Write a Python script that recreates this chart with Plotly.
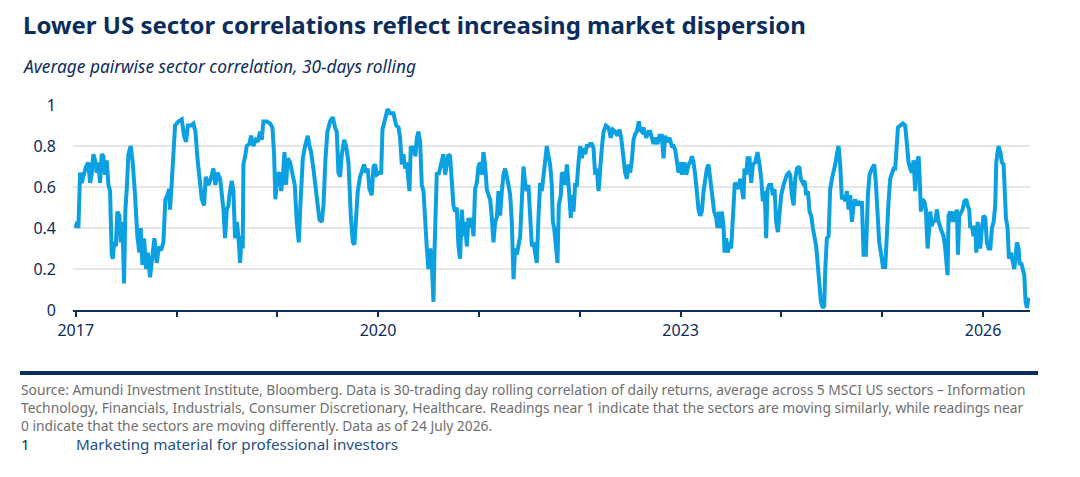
import pandas as pd
import plotly.graph_objects as go

# chart values (decimal year, average pairwise correlation)
years = [
    2017.000, 2017.013, 2017.026, 2017.043, 2017.059, 2017.082, 2017.102, 2017.125, 2017.142, 2017.158,
    2017.175, 2017.191, 2017.208, 2017.225, 2017.241, 2017.258, 2017.274, 2017.291, 2017.307, 2017.324,
    2017.340, 2017.357, 2017.367, 2017.380, 2017.397, 2017.413, 2017.433, 2017.446, 2017.463, 2017.479,
    2017.492, 2017.506, 2017.522, 2017.545, 2017.565, 2017.588, 2017.611, 2017.631, 2017.644, 2017.661,
    2017.678, 2017.697, 2017.714, 2017.737, 2017.757, 2017.780, 2017.803, 2017.826, 2017.846, 2017.869,
    2017.889, 2017.909, 2017.926, 2017.935, 2017.952, 2017.969, 2017.985, 2018.018, 2018.051, 2018.074,
    2018.094, 2018.111, 2018.141, 2018.167, 2018.187, 2018.207, 2018.227, 2018.250, 2018.273, 2018.289,
    2018.316, 2018.339, 2018.365, 2018.385, 2018.405, 2018.432,
    2018.465, 2018.481, 2018.498, 2018.514, 2018.524, 2018.547, 2018.564, 2018.580, 2018.597, 2018.613,
    2018.630, 2018.646, 2018.656, 2018.663, 2018.680, 2018.696, 2018.723, 2018.739, 2018.762, 2018.785,
    2018.805, 2018.828, 2018.845, 2018.861, 2018.894, 2018.928, 2018.951, 2018.967, 2018.980, 2019.000,
    2019.020, 2019.037, 2019.053, 2019.070, 2019.086, 2019.103, 2019.126, 2019.152, 2019.172, 2019.192,
    2019.212, 2019.228, 2019.252, 2019.275, 2019.301, 2019.318, 2019.334, 2019.357, 2019.381, 2019.400,
    2019.417, 2019.440, 2019.457, 2019.477, 2019.496, 2019.523, 2019.549, 2019.572, 2019.589, 2019.605,
    2019.622, 2019.639, 2019.662, 2019.681, 2019.705, 2019.728, 2019.748, 2019.764, 2019.781, 2019.797,
    2019.820, 2019.844, 2019.860, 2019.877, 2019.896, 2019.913, 2019.936, 2019.953, 2019.969, 2019.986,
    2020.012, 2020.029, 2020.042, 2020.068, 2020.092,
    2020.118, 2020.151, 2020.178, 2020.201, 2020.217, 2020.234, 2020.250, 2020.267, 2020.283, 2020.300,
    2020.310, 2020.323, 2020.340, 2020.356, 2020.369, 2020.383, 2020.399, 2020.416, 2020.432, 2020.449,
    2020.465, 2020.482, 2020.498, 2020.515, 2020.531, 2020.548, 2020.558, 2020.571, 2020.581, 2020.598,
    2020.614, 2020.631, 2020.647, 2020.664, 2020.680, 2020.697, 2020.713, 2020.730, 2020.746, 2020.763,
    2020.779, 2020.796, 2020.812, 2020.829, 2020.846, 2020.862, 2020.879, 2020.895, 2020.912, 2020.928,
    2020.945, 2020.961, 2020.978, 2020.994, 2021.011, 2021.027, 2021.044, 2021.060, 2021.077, 2021.094,
    2021.110, 2021.127, 2021.143, 2021.160, 2021.176, 2021.193, 2021.209, 2021.226, 2021.242, 2021.259,
    2021.275, 2021.292, 2021.309, 2021.325, 2021.342, 2021.358, 2021.375, 2021.391, 2021.408, 2021.424,
    2021.441, 2021.457, 2021.474, 2021.490, 2021.507, 2021.524, 2021.540, 2021.557, 2021.573, 2021.590,
    2021.606, 2021.623, 2021.639, 2021.656, 2021.672, 2021.689,
    2021.705, 2021.722, 2021.732, 2021.745, 2021.758, 2021.778, 2021.791, 2021.811, 2021.821, 2021.838,
    2021.854, 2021.871, 2021.887, 2021.897, 2021.910, 2021.927, 2021.937, 2021.953, 2021.970, 2021.987,
    2022.003, 2022.020, 2022.036, 2022.053, 2022.069, 2022.086, 2022.102, 2022.119, 2022.135, 2022.152,
    2022.168, 2022.185, 2022.201, 2022.218, 2022.235, 2022.258, 2022.284, 2022.307, 2022.327, 2022.350,
    2022.373, 2022.393, 2022.410, 2022.426, 2022.449, 2022.466, 2022.483, 2022.499, 2022.516, 2022.532,
    2022.549, 2022.565, 2022.585, 2022.598, 2022.615, 2022.631, 2022.658, 2022.681, 2022.698, 2022.714,
    2022.731, 2022.747, 2022.770, 2022.790, 2022.813, 2022.830, 2022.846, 2022.863, 2022.889, 2022.912,
    2022.929, 2022.946, 2022.962, 2022.979, 2022.995, 2023.012, 2023.035, 2023.055, 2023.078, 2023.094,
    2023.111, 2023.127, 2023.144, 2023.161, 2023.177, 2023.194, 2023.210, 2023.227, 2023.243, 2023.260,
    2023.276,
    2023.299, 2023.319, 2023.332, 2023.352, 2023.365, 2023.379, 2023.392, 2023.408, 2023.425, 2023.435,
    2023.451, 2023.468, 2023.485, 2023.501, 2023.514, 2023.524, 2023.537, 2023.557, 2023.574, 2023.590,
    2023.607, 2023.623, 2023.633, 2023.650, 2023.663, 2023.683, 2023.699, 2023.716, 2023.739, 2023.762,
    2023.782, 2023.799, 2023.815, 2023.828, 2023.838, 2023.848, 2023.862, 2023.878, 2023.898, 2023.914,
    2023.931, 2023.947, 2023.964, 2023.981, 2023.997, 2024.020, 2024.037, 2024.053, 2024.073, 2024.086,
    2024.103, 2024.120, 2024.136, 2024.153, 2024.176, 2024.192, 2024.212, 2024.229, 2024.245, 2024.262,
    2024.278, 2024.295, 2024.311, 2024.328, 2024.344, 2024.358, 2024.374, 2024.391, 2024.410, 2024.424,
    2024.434, 2024.450, 2024.467, 2024.483, 2024.500, 2024.516, 2024.533, 2024.549, 2024.566, 2024.582,
    2024.599, 2024.616, 2024.632, 2024.649, 2024.665, 2024.682, 2024.698, 2024.715, 2024.731, 2024.748,
    2024.764, 2024.781, 2024.797, 2024.814, 2024.837, 2024.857, 2024.873,
    2024.897, 2024.920, 2024.936, 2024.953, 2024.969, 2024.986, 2025.006, 2025.029, 2025.045, 2025.062,
    2025.078, 2025.095, 2025.112, 2025.128, 2025.138, 2025.155, 2025.178, 2025.204, 2025.227, 2025.244,
    2025.260, 2025.277, 2025.293, 2025.310, 2025.326, 2025.343, 2025.360, 2025.369, 2025.383, 2025.399,
    2025.416, 2025.432, 2025.449, 2025.465, 2025.475, 2025.492, 2025.508, 2025.525, 2025.541, 2025.558,
    2025.574, 2025.591, 2025.608, 2025.624, 2025.647, 2025.657, 2025.674, 2025.690, 2025.707, 2025.723,
    2025.740, 2025.750, 2025.763, 2025.780, 2025.796, 2025.813, 2025.832, 2025.846, 2025.862, 2025.872,
    2025.889, 2025.905, 2025.922, 2025.932, 2025.945, 2025.958, 2025.971, 2025.988, 2026.004, 2026.021,
    2026.037, 2026.054, 2026.071, 2026.087, 2026.104, 2026.120, 2026.130, 2026.143, 2026.153, 2026.170,
    2026.186, 2026.203, 2026.213, 2026.226, 2026.242, 2026.256, 2026.276, 2026.292, 2026.309, 2026.319,
    2026.335, 2026.352, 2026.362, 2026.378, 2026.395, 2026.408, 2026.421, 2026.434, 2026.451,
]

corr = [
    0.40, 0.43, 0.40, 0.67, 0.62, 0.67, 0.70, 0.72, 0.62, 0.66,
    0.76, 0.73, 0.67, 0.72, 0.62, 0.76, 0.75, 0.66, 0.73, 0.61,
    0.58, 0.27, 0.25, 0.33, 0.31, 0.48, 0.46, 0.33, 0.43, 0.13,
    0.49, 0.59, 0.76, 0.80, 0.72, 0.56, 0.36, 0.28, 0.40, 0.22,
    0.35, 0.20, 0.28, 0.16, 0.25, 0.35, 0.23, 0.31, 0.29, 0.33,
    0.54, 0.56, 0.59, 0.49, 0.62, 0.74, 0.90, 0.92, 0.93, 0.85,
    0.82, 0.90, 0.90, 0.91, 0.87, 0.74, 0.62, 0.54, 0.51, 0.65,
    0.61, 0.64, 0.69, 0.61, 0.67, 0.64,
    0.49, 0.35, 0.49, 0.51, 0.56, 0.63, 0.58, 0.35, 0.43, 0.36,
    0.23, 0.36, 0.30, 0.71, 0.75, 0.80, 0.81, 0.85, 0.80, 0.83,
    0.82, 0.87, 0.83, 0.92, 0.92, 0.91, 0.89, 0.76, 0.54, 0.66,
    0.67, 0.58, 0.64, 0.77, 0.61, 0.74, 0.72, 0.66, 0.61, 0.43,
    0.33, 0.51, 0.74, 0.80, 0.85, 0.80, 0.77, 0.69, 0.59, 0.51,
    0.44, 0.43, 0.51, 0.74, 0.87, 0.92, 0.94, 0.89, 0.87, 0.67,
    0.65, 0.76, 0.83, 0.80, 0.72, 0.46, 0.33, 0.32, 0.43, 0.58,
    0.65, 0.69, 0.71, 0.67, 0.69, 0.59, 0.56, 0.70, 0.71, 0.66,
    0.67, 0.67, 0.88, 0.93, 0.98,
    0.96, 0.96, 0.90, 0.89, 0.84, 0.71, 0.76, 0.69, 0.72, 0.62,
    0.58, 0.80, 0.76, 0.80, 0.75, 0.84, 0.87, 0.82, 0.61, 0.58,
    0.42, 0.30, 0.20, 0.30, 0.23, 0.04, 0.28, 0.56, 0.67, 0.66,
    0.70, 0.73, 0.76, 0.66, 0.72, 0.76, 0.75, 0.61, 0.51, 0.48,
    0.50, 0.31, 0.25, 0.49, 0.36, 0.43, 0.31, 0.45, 0.40, 0.45,
    0.36, 0.59, 0.62, 0.70, 0.72, 0.66, 0.77, 0.71, 0.59, 0.56,
    0.54, 0.45, 0.33, 0.43, 0.45, 0.58, 0.46, 0.58, 0.66, 0.69,
    0.66, 0.61, 0.56, 0.43, 0.15, 0.30, 0.27, 0.33, 0.36, 0.53,
    0.70, 0.62, 0.58, 0.61, 0.40, 0.31, 0.33, 0.27, 0.23, 0.46,
    0.62, 0.58, 0.67, 0.76, 0.80, 0.75,
    0.71, 0.61, 0.43, 0.40, 0.31, 0.23, 0.51, 0.56, 0.67, 0.66,
    0.61, 0.71, 0.62, 0.49, 0.45, 0.56, 0.48, 0.61, 0.61, 0.72,
    0.80, 0.74, 0.79, 0.76, 0.80, 0.80, 0.81, 0.81, 0.79, 0.66,
    0.69, 0.58, 0.71, 0.79, 0.87, 0.90, 0.89, 0.84, 0.88, 0.87,
    0.85, 0.88, 0.84, 0.76, 0.67, 0.64, 0.71, 0.67, 0.73, 0.83,
    0.86, 0.87, 0.92, 0.88, 0.87, 0.89, 0.84, 0.87, 0.87, 0.84,
    0.81, 0.84, 0.81, 0.85, 0.85, 0.74, 0.85, 0.82, 0.84, 0.80,
    0.80, 0.78, 0.73, 0.67, 0.72, 0.66, 0.72, 0.66, 0.71, 0.72,
    0.75, 0.72, 0.66, 0.58, 0.49, 0.46, 0.48, 0.58, 0.64, 0.69,
    0.71,
    0.61, 0.56, 0.48, 0.45, 0.40, 0.48, 0.40, 0.48, 0.41, 0.28,
    0.35, 0.28, 0.33, 0.30, 0.40, 0.51, 0.62, 0.61, 0.59, 0.64,
    0.59, 0.54, 0.69, 0.66, 0.74, 0.74, 0.62, 0.71, 0.72, 0.77,
    0.71, 0.64, 0.53, 0.58, 0.51, 0.35, 0.59, 0.61, 0.61, 0.56,
    0.59, 0.43, 0.38, 0.51, 0.56, 0.61, 0.64, 0.66, 0.67, 0.66,
    0.56, 0.51, 0.64, 0.69, 0.70, 0.64, 0.62, 0.63, 0.56, 0.58,
    0.48, 0.46, 0.40, 0.35, 0.31, 0.23, 0.12, 0.04, 0.01, 0.02,
    0.20, 0.35, 0.36, 0.59, 0.64, 0.67, 0.71, 0.76, 0.80, 0.71,
    0.54, 0.56, 0.53, 0.58, 0.49, 0.56, 0.43, 0.51, 0.54, 0.51,
    0.53, 0.51, 0.53, 0.27, 0.27, 0.56, 0.66,
    0.69, 0.71, 0.62, 0.43, 0.33, 0.28, 0.21, 0.21, 0.43, 0.53,
    0.64, 0.66, 0.69, 0.69, 0.80, 0.89, 0.90, 0.91, 0.90, 0.79,
    0.72, 0.69, 0.67, 0.73, 0.58, 0.72, 0.75, 0.66, 0.48, 0.54,
    0.53, 0.49, 0.30, 0.40, 0.48, 0.41, 0.44, 0.43, 0.49, 0.43,
    0.40, 0.38, 0.36, 0.30, 0.17, 0.46, 0.48, 0.43, 0.48, 0.43,
    0.49, 0.27, 0.46, 0.48, 0.49, 0.53, 0.54, 0.51, 0.49, 0.40,
    0.41, 0.36, 0.41, 0.28, 0.43, 0.36, 0.30, 0.40, 0.46, 0.45,
    0.33, 0.30, 0.30, 0.40, 0.43, 0.51, 0.72, 0.77, 0.80, 0.77,
    0.72, 0.71, 0.59, 0.45, 0.40, 0.25, 0.28, 0.23, 0.20, 0.25,
    0.33, 0.30, 0.22, 0.23, 0.20, 0.17, 0.04, 0.01, 0.06,
]

y_ticks = [0, 0.2, 0.4, 0.6, 0.8, 1]
y_labels = ["0", "0.2", "0.4", "0.6", "0.8", "1"]

title = "<b>Lower US sector correlations reflect increasing market dispersion</b>"
subtitle = "<i>Average pairwise sector correlation, 30-days rolling</i>"
source = ("Source: Amundi Investment Institute, Bloomberg. Data is 30-trading day rolling correlation of daily returns, "
          "average across 5 MSCI US sectors – Information<br>Technology, Financials, Industrials, Consumer Discretionary, "
          "Healthcare. Readings near 1 indicate that the sectors are moving similarly, while readings near<br>"
          "0 indicate that the sectors are moving differently. Data as of 24 July 2026.")
footer = "Marketing material for professional investors"

NAVY = "#0b2d5b"
BLUE = "#0aa0e2"
FONT = "Noto Sans"

dates = pd.to_datetime("2017-01-01") + pd.to_timedelta([(y - 2017) * 365.25 for y in years], unit="D")

# the page body adds an 8px margin, so the figure is drawn 8px smaller
# and all positions below are page pixels shifted back by that offset
OFF = 8
W, H = 1080 - OFF, 477 - OFF
L, R, T, B = 73 - OFF, 1030 - OFF, 105 - OFF, 310 - OFF


def px(x):
    return (x - OFF - L) / (R - L)


def py(y):
    return (B - (y - OFF)) / (B - T)


fig = go.Figure()
fig.add_trace(go.Scatter(x=dates, y=corr, mode="lines",
                         line=dict(color=BLUE, width=4), hoverinfo="x+y"))

fig.update_layout(
    width=W, height=H,
    margin=dict(l=L, r=W - R, t=T, b=H - B, pad=0),
    paper_bgcolor="white", plot_bgcolor="white",
    showlegend=False,
    font=dict(family=FONT, color=NAVY),
)

fig.update_xaxes(
    range=["2016-12-22", "2026-06-20"],
    tickmode="linear", tick0="2017-01-01", dtick="M36", tickformat="%Y",
    ticks="outside", ticklen=5, tickwidth=2, tickcolor=NAVY,
    minor=dict(tickmode="linear", tick0="2017-01-01", dtick="M12",
               ticks="outside", ticklen=5, tickwidth=2, tickcolor=NAVY, showgrid=False),
    showline=True, linecolor=NAVY, linewidth=2,
    showgrid=False, zeroline=False,
    tickfont=dict(size=16, color=NAVY, family=FONT),
)
fig.update_yaxes(
    range=[0, 1],
    tickvals=y_ticks, ticktext=y_labels,
    showgrid=True, gridcolor="#e6e6e6", gridwidth=1.5,
    zeroline=False, showline=False, ticks="",
    ticklabelstandoff=16,
    tickfont=dict(size=16, color=NAVY, family=FONT),
)

fig.add_annotation(text=title, x=px(21), y=py(24), xref="paper", yref="paper",
                   xanchor="left", yanchor="middle", showarrow=False,
                   font=dict(size=24, color=NAVY, family=FONT))
fig.add_annotation(text=subtitle, x=px(21), y=py(66), xref="paper", yref="paper",
                   xanchor="left", yanchor="middle", showarrow=False,
                   font=dict(size=17.3, color=NAVY, family=FONT))

# divider above the source note
fig.add_shape(type="line", xref="paper", yref="paper",
              x0=px(20), x1=px(1038), y0=py(373), y1=py(373),
              line=dict(color=NAVY, width=4))

fig.add_annotation(text=source, x=px(19), y=py(378), xref="paper", yref="paper",
                   xanchor="left", yanchor="top", align="left", showarrow=False,
                   font=dict(size=13.8, color="#6e6e6e", family=FONT))
fig.add_annotation(text="1", x=px(19), y=py(444), xref="paper", yref="paper",
                   xanchor="left", yanchor="middle", showarrow=False,
                   font=dict(size=15, color=NAVY, family=FONT))
fig.add_annotation(text=footer, x=px(74), y=py(444), xref="paper", yref="paper",
                   xanchor="left", yanchor="middle", showarrow=False,
                   font=dict(size=15.2, color="#1d4f86", family=FONT))

fig.write_html("out.html")
